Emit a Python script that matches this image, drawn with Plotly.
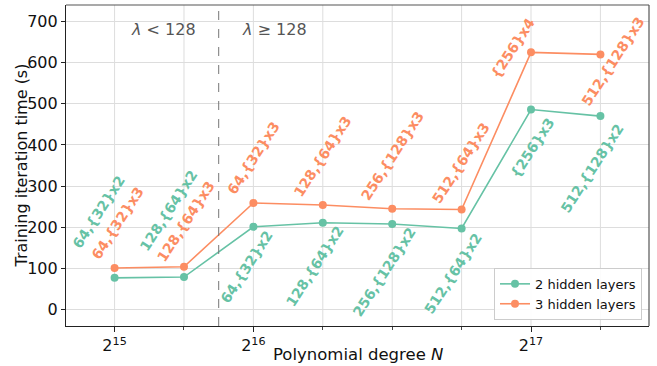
import plotly.graph_objects as go

# ---- data ----
x_idx = [0, 1, 2, 3, 4, 5, 6, 7]
tick_pos = [0, 2, 6]
tick_text = ["2<sup>15</sup>", "2<sup>16</sup>", "2<sup>17</sup>"]
minor_pos = [1, 3, 4, 5, 7]
y_ticks = [0, 100, 200, 300, 400, 500, 600, 700]
time_2 = [77, 79, 201, 211, 208, 197, 486, 470]
time_3 = [101, 104, 259, 254, 245, 243, 625, 620]
labels_2 = ["64,{32}x2", "128,{64}x2", "64,{32}x2", "128,{64}x2",
            "256,{128}x2", "512,{64}x2", "{256}x3", "512,{128}x2"]
labels_3 = ["64,{32}x3", "128,{64}x3", "64,{32}x3", "128,{64}x3",
            "256,{128}x3", "512,{64}x3", "{256}x4", "512,{128}x3"]
name_2 = "2 hidden layers"
name_3 = "3 hidden layers"
split_x = 1.5

# ---- styles ----
C2 = "#66c2a5"
C3 = "#fc8d62"
# label placement (center offsets in px relative to point, screen coords: +x right, +y up)
off_2 = [(-16, 66), (-15, 67), (-7, -40), (-8, -43), (-8, -48), (-8, -45), (1, -38), (-8, -52)]
off_3 = [(3, 45), (2, 46), (0, 45), (0, 49), (0, 53), (-1, 47), (-18, 4), (13, -7)]

fig = go.Figure()
fig.add_trace(go.Scatter(x=x_idx, y=time_2, mode="lines+markers", name=name_2,
                         line=dict(color=C2, width=1.6), marker=dict(size=8, color=C2)))
fig.add_trace(go.Scatter(x=x_idx, y=time_3, mode="lines+markers", name=name_3,
                         line=dict(color=C3, width=1.6), marker=dict(size=8, color=C3)))

ann = []
for xs, ys, labs, offs, col in [(x_idx, time_2, labels_2, off_2, C2), (x_idx, time_3, labels_3, off_3, C3)]:
    for xv, yv, lab, (dx, dy) in zip(xs, ys, labs, offs):
        ann.append(dict(x=xv, y=yv, xref="x", yref="y", text="<b>" + lab + "</b>", showarrow=False,
                        textangle=-57, xanchor="center", yanchor="middle", xshift=dx, yshift=dy,
                        font=dict(family="DejaVu Sans", size=14, color=col)))

ann.append(dict(x=0.7, y=680, xref="x", yref="y", text="<i>λ</i> < 128", showarrow=False,
                font=dict(family="DejaVu Sans", size=16, color="#555555"), xanchor="center", yanchor="middle"))
ann.append(dict(x=2.3, y=680, xref="x", yref="y", text="<i>λ</i> ≥ 128", showarrow=False,
                font=dict(family="DejaVu Sans", size=16, color="#555555"), xanchor="center", yanchor="middle"))
# axis titles
ann.append(dict(x=0.5, y=0, xref="paper", yref="paper", text="Polynomial degree <i>N</i>", showarrow=False,
                xanchor="center", yanchor="middle", yshift=-28,
                font=dict(family="DejaVu Sans", size=16.5, color="#111111")))
ann.append(dict(x=0, y=0.5, xref="paper", yref="paper", text="Training iteration time (s)", showarrow=False,
                xanchor="center", yanchor="middle", xshift=-45, textangle=-90,
                font=dict(family="DejaVu Sans", size=16, color="#111111")))

shapes = [
    dict(type="line", x0=split_x, x1=split_x, y0=0, y1=1, xref="x", yref="paper",
         line=dict(color="#777777", width=1, dash="dash")),
    dict(type="line", x0=0, x1=1, y0=1, y1=1, xref="paper", yref="paper",
         line=dict(color="#555555", width=1.2)),
    dict(type="line", x0=1, x1=1, y0=0, y1=1, xref="paper", yref="paper",
         line=dict(color="#555555", width=1.2)),
]
for xv in x_idx:
    shapes.append(dict(type="line", x0=xv, x1=xv, y0=0, y1=1, xref="x", yref="paper",
                       line=dict(color="#dddddd", width=1), layer="below"))

fig.update_layout(
    width=657, height=366,
    margin=dict(l=66, r=8, t=5, b=40, autoexpand=False),
    plot_bgcolor="white", paper_bgcolor="white",
    font=dict(family="DejaVu Sans", size=16, color="#111111"),
    annotations=ann, shapes=shapes,
    showlegend=True,
    legend=dict(x=0.988, y=0.019, xanchor="right", yanchor="bottom",
                bgcolor="rgba(255,255,255,0.9)", bordercolor="#cccccc", borderwidth=1,
                font=dict(size=13, color="#111111"), tracegroupgap=0, itemwidth=30),
)
fig.update_xaxes(
    range=[-0.7, 7.7], tickmode="array", tickvals=tick_pos, ticktext=tick_text,
    ticks="outside", ticklen=5, tickcolor="#222222",
    showline=True, linecolor="#222222", linewidth=1.2,
    showgrid=False, zeroline=False, automargin=False,
    minor=dict(tickmode="array", tickvals=minor_pos, ticks="outside", ticklen=3,
               tickcolor="#444444", showgrid=False),
    tickfont=dict(size=16),
)
fig.update_yaxes(
    range=[-40, 740], tickmode="array", tickvals=y_ticks,
    ticks="outside", ticklen=4, tickcolor="#222222",
    showline=True, linecolor="#222222", linewidth=1.2,
    showgrid=True, gridcolor="#dddddd", gridwidth=1, zeroline=False, automargin=False,
    tickfont=dict(size=16),
)
fig.write_html("out.html", config={"displayModeBar": False},
               post_script="document.body.style.margin='0';")
